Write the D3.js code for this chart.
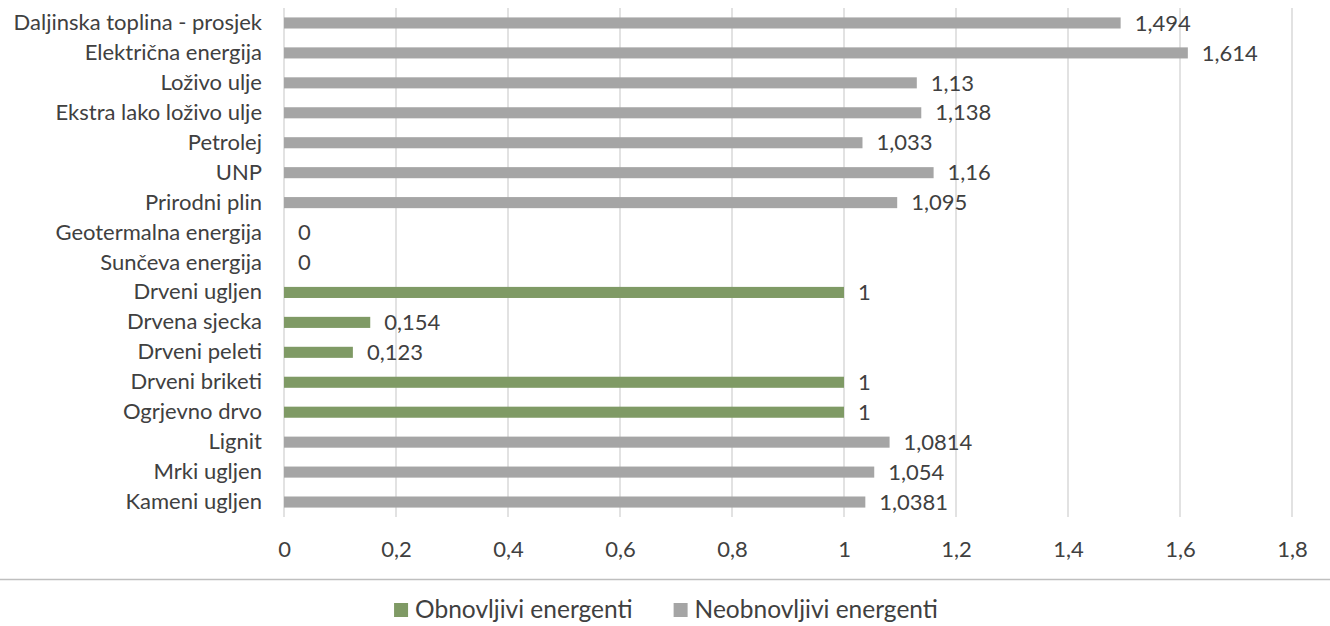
<!DOCTYPE html>
<html>
<head>
<meta charset="utf-8">
<script src="https://cdn.jsdelivr.net/npm/d3@7"></script>
<style>
  html, body { margin: 0; padding: 0; background: #ffffff; }
  svg { display: block; }
  text { font-family: "Lato", "Open Sans", sans-serif; }
</style>
</head>
<body>
<svg id="chart" width="1330" height="626"></svg>
<script>
// Energy sources, listed top to bottom
const categories = [
  "Daljinska toplina - prosjek",
  "Električna energija",
  "Loživo ulje",
  "Ekstra lako loživo ulje",
  "Petrolej",
  "UNP",
  "Prirodni plin",
  "Geotermalna energija",
  "Sunčeva energija",
  "Drveni ugljen",
  "Drvena sjecka",
  "Drveni peleti",
  "Drveni briketi",
  "Ogrjevno drvo",
  "Lignit",
  "Mrki ugljen",
  "Kameni ugljen"
];

// Renewable sources (null where the source is not renewable)
const obnovljivi = [
  null, null, null, null, null, null, null,
  0, 0, 1, 0.154, 0.123, 1, 1,
  null, null, null
];

// Non-renewable sources (null where the source is renewable)
const neobnovljivi = [
  1.494, 1.614, 1.13, 1.138, 1.033, 1.16, 1.095,
  null, null, null, null, null, null, null,
  1.0814, 1.054, 1.0381
];

const xTicks = [0, 0.2, 0.4, 0.6, 0.8, 1, 1.2, 1.4, 1.6, 1.8];

const seriesNames = ["Obnovljivi energenti", "Neobnovljivi energenti"];
const seriesColors = ["#7f9a65", "#a5a5a5"];

const svg = d3.select("#chart");
const textColor = "#404040";
const fontSize = 22;
const legendFontSize = 24.5;

const plot = { left: 284, right: 1292, top: 8, bottom: 517 };

const x = d3.scaleLinear().domain([0, 1.8]).range([plot.left, plot.right]);
const y = d3.scaleBand().domain(categories).range([plot.top, plot.bottom]).paddingInner(0.63).paddingOuter(0.315);

const fmt = v => String(v).replace(".", ",");

// Vertical gridlines
svg.append("g")
  .selectAll("line")
  .data(xTicks)
  .join("line")
  .attr("x1", d => x(d)).attr("x2", d => x(d))
  .attr("y1", plot.top).attr("y2", plot.bottom)
  .attr("stroke", "#d9d9d9")
  .attr("stroke-width", 1.5);

// X axis tick labels
const xAxis = d3.axisBottom(x).tickValues(xTicks).tickFormat(fmt).tickSize(0).tickPadding(0);
const gx = svg.append("g").attr("transform", `translate(0, 557)`).call(xAxis);
gx.select(".domain").remove();
gx.selectAll("text")
  .attr("y", 0)
  .attr("dy", 0)
  .attr("fill", textColor)
  .attr("font-size", fontSize)
  .attr("font-family", "Lato, sans-serif");

// Y axis category labels
const yAxis = d3.axisLeft(y).tickSize(0).tickPadding(22);
const gy = svg.append("g").attr("transform", `translate(${plot.left}, 0)`).call(yAxis);
gy.select(".domain").remove();
gy.selectAll("text")
  .attr("fill", textColor)
  .attr("font-size", fontSize)
  .attr("font-family", "Lato, sans-serif");

// Bars and value labels for each series
[obnovljivi, neobnovljivi].forEach((vals, si) => {
  const rows = categories.map((c, i) => ({ c, v: vals[i] })).filter(d => d.v !== null);
  const g = svg.append("g");
  g.selectAll("rect")
    .data(rows)
    .join("rect")
    .attr("x", x(0))
    .attr("y", d => y(d.c))
    .attr("width", d => x(d.v) - x(0))
    .attr("height", y.bandwidth())
    .attr("fill", seriesColors[si]);
  g.selectAll("text")
    .data(rows)
    .join("text")
    .attr("x", d => x(d.v) + 14)
    .attr("y", d => y(d.c) + y.bandwidth() / 2)
    .attr("dy", "0.35em")
    .attr("fill", textColor)
    .attr("font-size", fontSize)
    .text(d => fmt(d.v));
});

// Separator above the legend
svg.append("line")
  .attr("x1", 0).attr("x2", 1330)
  .attr("y1", 579.5).attr("y2", 579.5)
  .attr("stroke", "#bfbfbf")
  .attr("stroke-width", 1.5);

// Legend
const legend = svg.append("g");
const items = legend.selectAll("g")
  .data(seriesNames)
  .join("g");
items.append("rect")
  .attr("width", 14).attr("height", 14)
  .attr("y", -15)
  .attr("fill", (d, i) => seriesColors[i]);
items.append("text")
  .attr("x", 21)
  .attr("fill", textColor)
  .attr("font-size", legendFontSize)
  .text(d => d);
const gap = 41;
let lx = 0;
items.each(function() {
  d3.select(this).attr("transform", `translate(${lx}, 0)`);
  lx += this.getBBox().width + gap;
});
const lw = lx - gap;
legend.attr("transform", `translate(${(1330 - lw) / 2 + 1}, 618)`);
</script>
</body>
</html>
